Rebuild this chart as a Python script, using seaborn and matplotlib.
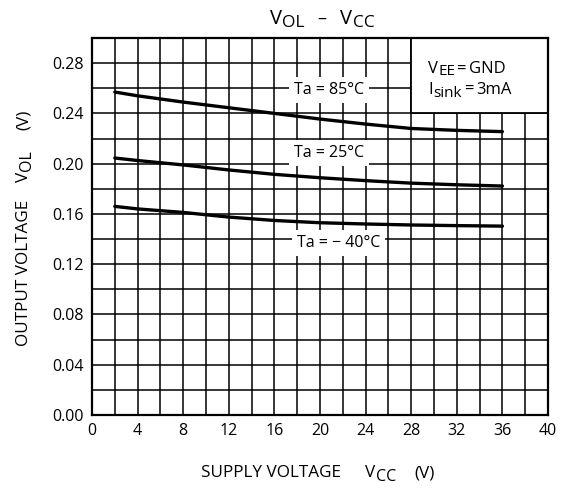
import numpy as np
import pandas as pd
import matplotlib
matplotlib.use("Agg")
import matplotlib.pyplot as plt
from matplotlib.patches import Rectangle
from matplotlib.transforms import IdentityTransform
import seaborn as sns

vcc = [2, 4, 8, 12, 16, 20, 24, 28, 32, 36]
vol_85 = [0.257, 0.254, 0.249, 0.2445, 0.240, 0.2355, 0.2315, 0.228, 0.2265, 0.2255]
vol_25 = [0.2045, 0.2025, 0.199, 0.195, 0.1915, 0.1888, 0.1865, 0.1845, 0.1832, 0.1822]
vol_m40 = [0.1660, 0.1640, 0.1612, 0.1575, 0.1548, 0.1530, 0.1520, 0.1512, 0.1507, 0.1503]
series_names = ["Ta = 85°C", "Ta = 25°C", "Ta = − 40°C"]
x_ticks = [0, 4, 8, 12, 16, 20, 24, 28, 32, 36, 40]
y_ticks = [0.00, 0.04, 0.08, 0.12, 0.16, 0.20, 0.24, 0.28]

df = pd.DataFrame({
    "vcc": vcc * 3,
    "vol": vol_85 + vol_25 + vol_m40,
    "series": sum([[n] * len(vcc) for n in series_names], []),
})

sns.set_theme(style="white")
plt.rcParams["font.family"] = ["Open Sans", "DejaVu Sans"]

W, H = 568, 488
fig = plt.figure(figsize=(W / 100, H / 100), dpi=100)
ax = fig.add_axes([92 / W, 1 - 415 / H, 456 / W, 377 / H])

sns.lineplot(data=df, x="vcc", y="vol", units="series", estimator=None,
             color="black", linewidth=2.4, ax=ax, legend=False, zorder=3)

ax.set_xlim(0, 40)
ax.set_ylim(0, 0.30)
ax.set_xticks(x_ticks)
ax.set_xticks(np.arange(0, 41, 2), minor=True)
ax.set_yticks(y_ticks)
ax.set_yticks(np.arange(0, 0.301, 0.02), minor=True)
ax.set_yticklabels([f"{v:.2f}" for v in y_ticks])
ax.grid(True, which="both", color="black", linewidth=1.1, zorder=1)
ax.set_axisbelow(True)
ax.tick_params(axis="both", which="major", labelsize=11.5, length=3,
               color="black", width=1.1, pad=3, labelcolor="black")
ax.tick_params(axis="both", which="minor", length=0)
ax.set_xlabel("")
ax.set_ylabel("")
for s in ax.spines.values():
    s.set_color("black")
    s.set_linewidth(1.6)

renderer = fig.canvas.get_renderer()
IDT = IdentityTransform()


def rich(parts, center, base, rotation=0):
    """parts: (text, fontsize, drop_px, gap_px); coordinates in pixels, y up."""
    placed = []
    cursor = 0.0
    for s, fs, drop, gap in parts:
        cursor += gap
        t = fig.text(0, 0, s, fontsize=fs, ha="left", va="baseline",
                     rotation=rotation, rotation_mode="anchor",
                     transform=IDT, color="black", zorder=5)
        ext = t.get_window_extent(renderer)
        w = ext.width if rotation == 0 else ext.height
        placed.append((t, cursor, drop))
        cursor += w
    start = center - cursor / 2
    for t, off, drop in placed:
        if rotation == 0:
            t.set_position((start + off, base - drop))
        else:
            t.set_position((base + drop, start + off))


def rich_left(parts, x0, base):
    cursor = x0
    for s, fs, drop, gap in parts:
        cursor += gap
        t = fig.text(cursor, base - drop, s, fontsize=fs, ha="left",
                     va="baseline", transform=IDT, color="black", zorder=6)
        cursor += t.get_window_extent(renderer).width


# title
rich([("V", 14.5, 0, 0), ("OL", 12.5, 3, 0.2), ("–", 13, 0, 13),
      ("V", 14.5, 0, 14), ("CC", 12.5, 3, 0.2)], 322, H - 24)

# x label
rich([("SUPPLY VOLTAGE", 12.3, 0, 0), ("V", 12.3, 0, 24),
      ("CC", 11.5, 4, 0.2), ("(V)", 12.3, 0, 18)], 318, H - 477)

# y label
rich([("OUTPUT VOLTAGE", 12.3, 0, 0), ("V", 12.3, 0, 18),
      ("OL", 11.5, 3, 0.2), ("(V)", 12.3, 0, 20)], H - 228, 28, rotation=90)

# condition box
ax.add_patch(Rectangle((28, 0.24), 12, 0.06, facecolor="white",
                       edgecolor="black", linewidth=1.3, zorder=2))
rich_left([("V", 12, 0, 0), ("EE", 11, 2.6, 0.2), ("=", 12, 1.5, 1.5),
           ("GND", 12, 0, 2.5)], 428, H - 72.7)
rich_left([("I", 12, 0, 0), ("sink", 11, 2.7, 0.2), ("=", 12, 0, 2.5),
           ("3mA", 12, 0, 3)], 428, H - 94)

bb = dict(facecolor="white", edgecolor="none", pad=3.5)
ax.text(20.8, 0.2585, series_names[0], fontsize=11.5, ha="center", va="center",
        bbox=bb, zorder=4, color="black")
ax.text(20.8, 0.2085, series_names[1], fontsize=11.5, ha="center", va="center",
        bbox=bb, zorder=4, color="black")
ax.text(21.6, 0.1370, series_names[2], fontsize=11.5, ha="center", va="center",
        bbox=bb, zorder=4, color="black")

fig.savefig("out.png", dpi=100, facecolor="white")
